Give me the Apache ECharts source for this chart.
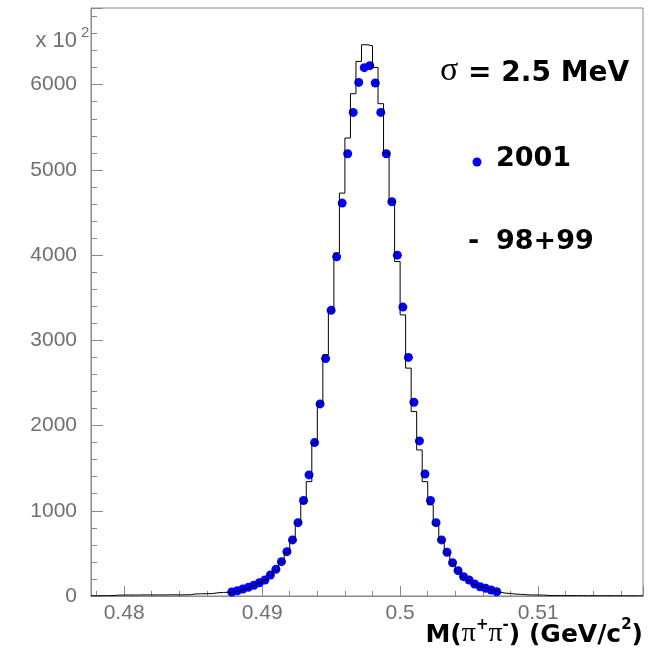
<!DOCTYPE html>
<html>
<head>
<meta charset="utf-8">
<script src="https://cdn.jsdelivr.net/npm/echarts@6/dist/echarts.min.js"></script>
<style>
html,body{margin:0;padding:0;background:#fff;}
#c{width:648px;height:652px;}
</style>
</head>
<body>
<div id="c"></div>
<script>
// ---- data ----
const xMin = 0.4776;          // histogram lower edge (GeV/c^2)
const xMax = 0.5176;          // histogram upper edge
const binWidth = 0.0004;      // bin width
// 98+99 histogram contents (x 10^2), 100 bins
const histValues = [
  3, 4, 4, 5,
  10, 11, 12, 11, 12, 13, 12, 13, 12, 13, 14, 13, 14, 15,
  24, 26, 27, 29,
  38, 42, 44,
  45, 60, 80, 100, 124, 152, 186, 242, 306, 396, 512, 650, 850, 1090, 1342, 1796, 2263, 2830, 3338, 4024, 4728, 5374, 5894, 6273,
  6469, 6458,
  6203, 5777, 5201, 4630, 3925, 3299, 2674, 2164, 1714, 1342, 1070, 830, 640, 500, 378, 288, 220, 180, 136, 105, 86, 66, 48,
  34, 30, 22, 19,
  14, 12, 12, 11,
  6, 5, 5, 4, 5, 4, 4, 3, 4, 3, 3, 4, 3, 3, 2, 3, 2, 2
];
// 2001 data points (x 10^2), bins 25..73
const dotFirstBin = 25;
const dotValues = [
  47, 62, 82, 102, 126, 156, 188, 247, 313, 403, 520, 658, 861, 1121, 1421, 1800, 2254, 2786, 3352, 3980, 4611, 5190, 5675, 6027,
  6200, 6223,
  6020, 5675, 5190, 4626, 4000, 3390, 2800, 2274, 1820, 1432, 1121, 861, 658, 513, 390, 297, 227, 188, 141, 109, 90, 70, 50
];
const yTicks = [0, 1000, 2000, 3000, 4000, 5000, 6000];
const yMax = 6900;

// ---- build series data ----
const histData = histValues.map((v, i) => [+(xMin + i * binWidth).toFixed(5), v]);
histData.push([xMax, histValues[histValues.length - 1]]);
const dotData = dotValues.map((v, i) => [+(xMin + (dotFirstBin + i + 0.5) * binWidth).toFixed(5), v]);

const chart = echarts.init(document.getElementById('c'), null, {renderer: 'canvas'});
const axisGray = '#8a8a8a';
const labelGray = '#707070';
const sansFont = '"Liberation Sans", Arial, sans-serif';
const boldFont = '"DejaVu Sans", sans-serif';

chart.setOption({
  animation: false,
  backgroundColor: '#ffffff',
  grid: {left: 91, top: 8, width: 552, height: 588, show: true, borderColor: axisGray, borderWidth: 1, containLabel: false},
  xAxis: {
    type: 'value', min: xMin, max: xMax, splitNumber: 4,
    axisLine: {show: true, onZero: false, lineStyle: {color: axisGray, width: 1}},
    axisTick: {show: true, inside: true, length: 10, lineStyle: {color: axisGray}},
    minorTick: {show: true, splitNumber: 5, length: 5, lineStyle: {color: axisGray}},
    splitLine: {show: false},
    axisLabel: {show: true, showMinLabel: false, showMaxLabel: false, margin: 7, color: labelGray,
      fontFamily: sansFont, fontSize: 21}
  },
  yAxis: {
    type: 'value', min: 0, max: yMax, interval: 1000,
    axisLine: {show: true, lineStyle: {color: axisGray, width: 1}},
    axisTick: {show: true, inside: true, length: 12, lineStyle: {color: axisGray}},
    minorTick: {show: true, splitNumber: 5, length: 6, lineStyle: {color: axisGray}},
    splitLine: {show: false},
    axisLabel: {show: true, showMaxLabel: false, margin: 14, color: labelGray,
      fontFamily: sansFont, fontSize: 21,
      formatter: v => (yTicks.indexOf(v) >= 0 ? String(v) : '')}
  },
  series: [
    {
      name: '2001', type: 'scatter', data: dotData, symbol: 'circle', symbolSize: 9,
      itemStyle: {color: '#0000ff', opacity: 1}, z: 2
    },
    {
      name: '98+99', type: 'line', data: histData, step: 'end', showSymbol: false, symbol: 'none',
      lineStyle: {color: '#000000', width: 1}, z: 3
    }
  ],
  graphic: [
    {type: 'text', right: 648 - 77, top: 30, style: {text: 'x 10', fontSize: 22, fontFamily: sansFont, fill: labelGray}},
    {type: 'text', left: 81, top: 25, style: {text: '2', fontSize: 15, fontFamily: sansFont, fill: labelGray}},
    {type: 'text', left: 440, top: 54, style: {
      text: '{s|σ}{t| = 2.5 MeV}',
      rich: {
        s: {fontFamily: '"Liberation Serif", serif', fontSize: 34, fill: '#000', verticalAlign: 'bottom'},
        t: {fontFamily: boldFont, fontWeight: 'bold', fontSize: 28, fill: '#000', verticalAlign: 'bottom'}
      }}},
    {type: 'circle', shape: {cx: 477, cy: 162, r: 4.5}, style: {fill: '#0000ff'}},
    {type: 'text', left: 496, top: 145, style: {text: '2001', fontFamily: boldFont, fontWeight: 'bold', fontSize: 27, fill: '#000'}},
    {type: 'text', left: 468, top: 228, style: {text: '-', fontFamily: boldFont, fontWeight: 'bold', fontSize: 27, fill: '#000'}},
    {type: 'text', left: 496, top: 228, style: {text: '98+99', fontFamily: boldFont, fontWeight: 'bold', fontSize: 27, fill: '#000'}},
    {type: 'text', right: 5, top: 618, style: {
      text: '{m|M(}{p|π}{u|+}{p|π}{u|-}{m|) (GeV/c}{u|2}{m|)}',
      rich: {
        m: {fontFamily: boldFont, fontWeight: 'bold', fontSize: 25, fill: '#000', verticalAlign: 'bottom', lineHeight: 30},
        p: {fontFamily: '"Liberation Serif", serif', fontSize: 28, fill: '#000', verticalAlign: 'bottom', lineHeight: 30},
        u: {fontFamily: boldFont, fontWeight: 'bold', fontSize: 15, fill: '#000', verticalAlign: 'top', lineHeight: 30}
      }}}
  ]
});
</script>
</body>
</html>
